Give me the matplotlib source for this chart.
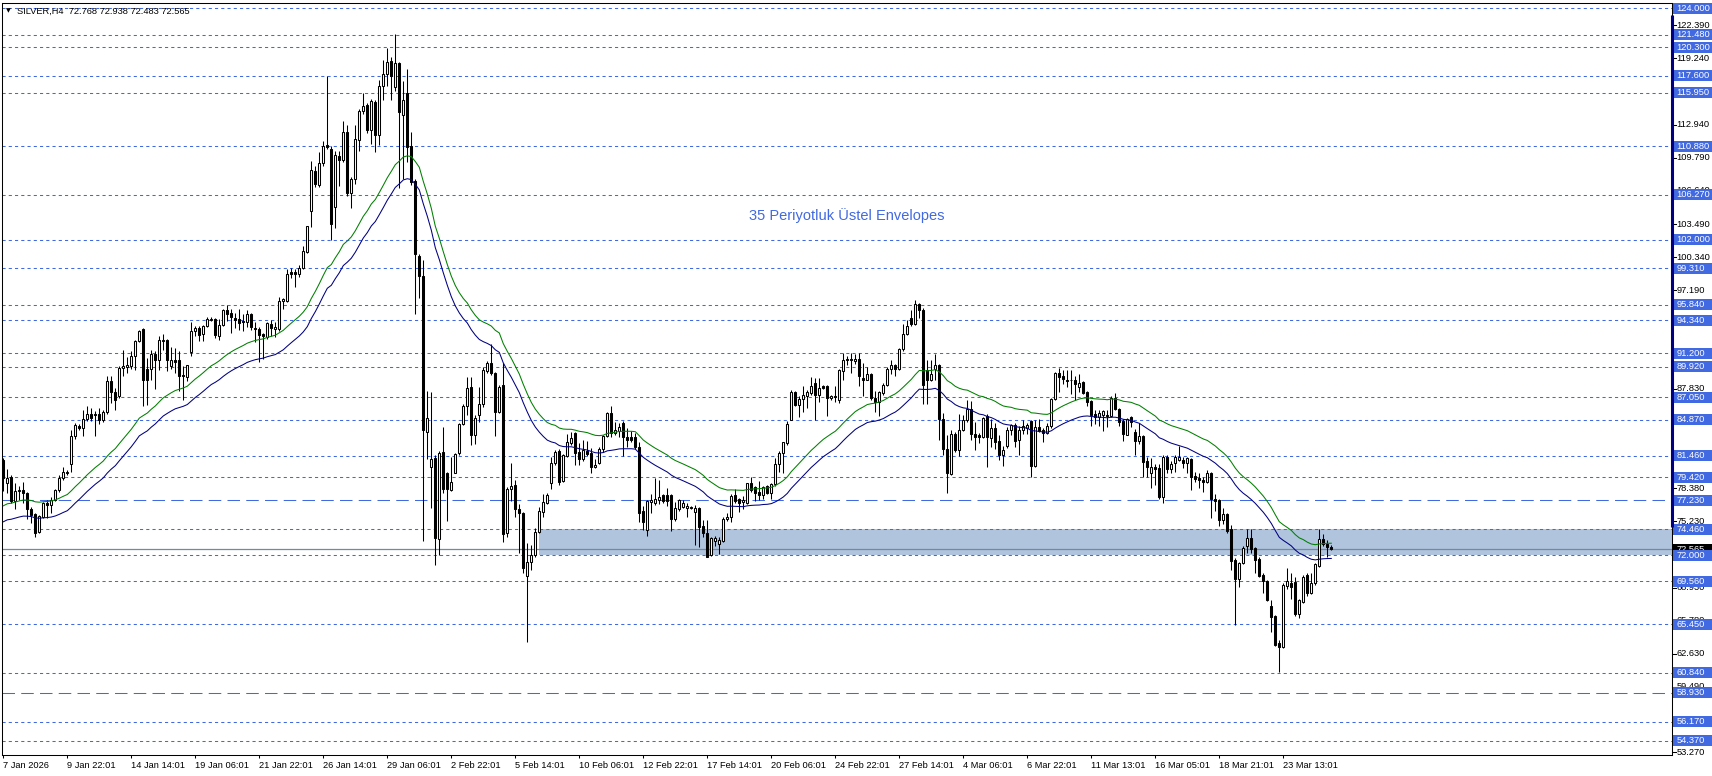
import numpy as np
import matplotlib
matplotlib.use("Agg")
import matplotlib.pyplot as plt
from matplotlib.patches import Rectangle
import matplotlib.transforms as mtransforms

# ---------------- data (H4 candles) ----------------
opens = [
81.08, 78.92, 79.42, 77.20, 78.10, 78.22, 77.96, 76.38, 75.90, 74.25,
75.68, 77.01, 76.79, 77.27, 78.22, 79.33, 79.96, 80.69, 83.30, 84.31,
84.09, 84.95, 85.46, 85.46, 85.46, 84.82, 85.58, 88.54, 87.49, 87.11,
89.81, 89.90, 90.03, 90.98, 92.35, 93.52, 89.71, 89.71, 91.17, 90.54,
92.38, 92.50, 89.96, 90.54, 90.54, 89.17, 88.95, 91.30, 93.30, 93.61,
93.07, 93.84, 94.35, 94.47, 92.88, 93.93, 95.30, 95.06, 94.59, 94.51,
94.28, 94.20, 94.90, 93.62, 93.54, 93.04, 92.73, 94.01, 93.50, 93.50,
96.15, 96.15, 98.94, 98.94, 98.79, 99.33, 100.81, 104.77, 108.58, 107.22,
109.28, 110.99, 110.60, 105.08, 109.94, 109.55, 112.27, 106.44, 107.73, 111.50,
114.22, 114.80, 112.47, 115.11, 112.00, 116.66, 117.71, 119.00, 116.55, 118.76,
113.83, 115.97, 110.91, 107.61, 100.50, 98.56, 83.71, 80.41, 81.30, 73.53,
81.85, 79.83, 78.21, 79.86, 81.69, 84.48, 86.19, 87.97, 83.44, 85.34,
86.38, 89.55, 90.31, 89.36, 85.65, 88.19, 74.09, 78.27, 78.68, 76.37,
75.99, 70.03, 71.39, 72.03, 74.25, 76.15, 77.00, 78.84, 80.74, 81.95,
79.09, 81.44, 82.71, 83.59, 81.85, 81.12, 81.95, 81.69, 80.36, 80.74,
82.07, 83.34, 85.56, 83.59, 83.85, 84.61, 83.28, 83.28, 83.21, 82.33,
76.24, 74.40, 77.10, 77.00, 77.26, 77.73, 77.73, 77.73, 75.42, 76.38,
76.57, 76.47, 76.63, 76.16, 76.47, 74.79, 74.09, 72.03, 73.39, 73.08,
73.39, 75.42, 75.68, 77.74, 77.33, 77.11, 77.01, 78.85, 78.54, 78.06,
77.74, 78.60, 77.96, 78.79, 80.69, 81.71, 82.66, 84.88, 87.49, 86.31,
86.85, 87.17, 87.42, 88.38, 87.26, 88.06, 88.06, 86.95, 87.17, 86.73,
89.49, 90.66, 90.66, 90.44, 90.66, 88.85, 88.69, 89.27, 86.95, 86.54,
87.42, 88.22, 89.71, 90.12, 89.71, 91.61, 93.07, 94.60, 94.02, 95.90,
95.30, 89.59, 88.70, 89.75, 90.07, 85.00, 82.15, 79.71, 83.51, 82.06,
83.96, 84.84, 85.95, 83.51, 83.42, 83.26, 85.22, 83.20, 84.15, 82.88,
81.52, 82.37, 83.96, 84.37, 82.94, 83.96, 84.15, 84.78, 80.47, 84.21,
83.89, 83.64, 84.27, 86.90, 89.34, 89.02, 88.70, 88.70, 88.70, 88.01,
88.48, 87.53, 86.68, 85.41, 85.16, 85.32, 85.32, 85.22, 87.00, 85.95,
84.78, 83.47, 85.12, 83.76, 82.91, 83.35, 81.01, 79.87, 80.37, 80.28,
77.52, 81.32, 80.18, 80.75, 81.07, 81.07, 80.82, 81.13, 79.55, 79.33,
79.17, 79.01, 79.80, 77.33, 77.27, 75.37, 75.94, 74.48, 71.57, 69.73,
71.25, 72.90, 73.63, 72.68, 71.63, 70.14, 69.60, 67.20, 66.25, 63.65,
63.27, 69.10, 69.41, 69.51, 66.44, 67.61, 70.14, 68.46, 69.35, 71.00,
73.53, 73.09, 72.768]

highs = [
81.24, 80.19, 79.65, 78.85, 78.60, 79.01, 78.06, 76.57, 76.06, 75.84,
77.11, 77.27, 77.58, 78.28, 79.65, 80.44, 80.12, 83.93, 84.57, 84.50,
85.77, 86.22, 85.99, 85.68, 85.99, 85.84, 89.08, 89.08, 87.90, 89.96,
91.55, 90.85, 91.39, 92.50, 93.39, 93.61, 90.76, 91.49, 91.39, 92.82,
93.07, 92.57, 91.81, 91.71, 91.39, 89.96, 90.12, 94.15, 93.84, 93.77,
93.93, 94.66, 94.66, 94.57, 94.47, 95.42, 95.84, 95.45, 95.06, 95.37,
94.90, 95.29, 95.06, 94.20, 93.74, 93.12, 94.20, 94.40, 94.20, 96.54,
96.46, 99.26, 99.33, 99.18, 99.64, 101.39, 103.34, 109.44, 108.97, 110.33,
111.38, 117.60, 110.91, 110.45, 110.45, 113.32, 112.93, 108.00, 112.86, 114.41,
115.97, 114.99, 115.38, 115.27, 117.21, 119.07, 120.24, 119.38, 121.60, 118.88,
117.05, 118.22, 112.27, 107.73, 100.62, 100.03, 87.60, 87.52, 81.58, 81.96,
84.18, 79.90, 81.31, 81.69, 84.61, 86.38, 88.92, 88.92, 85.34, 87.97,
89.93, 90.50, 92.09, 89.46, 88.19, 90.25, 78.52, 80.80, 79.16, 76.88,
76.15, 73.14, 72.98, 74.56, 76.56, 77.83, 77.95, 81.38, 82.01, 82.07,
81.63, 83.53, 83.75, 83.75, 82.64, 82.96, 82.90, 82.17, 81.12, 82.33,
83.44, 85.65, 86.19, 84.70, 84.61, 84.80, 84.07, 83.85, 83.59, 82.80,
76.69, 77.26, 77.83, 79.32, 79.16, 77.83, 78.37, 77.83, 77.10, 77.33,
77.27, 76.95, 76.69, 76.79, 76.57, 75.36, 75.36, 73.77, 73.84, 73.77,
75.68, 76.06, 77.84, 78.28, 77.43, 77.65, 78.92, 79.49, 78.60, 79.11,
78.60, 78.70, 78.85, 81.23, 81.96, 82.82, 84.73, 87.74, 87.58, 87.11,
88.06, 87.68, 88.95, 88.85, 88.85, 88.22, 88.22, 87.26, 88.06, 89.71,
91.23, 90.92, 91.23, 91.17, 91.23, 90.28, 89.90, 89.33, 87.58, 87.58,
88.38, 89.90, 90.60, 90.22, 91.71, 94.00, 94.34, 95.30, 96.30, 96.00,
95.50, 90.54, 90.60, 91.17, 90.22, 85.54, 83.42, 83.96, 83.73, 85.41,
85.32, 86.74, 86.68, 84.68, 83.64, 85.16, 85.41, 85.00, 84.59, 83.42,
82.37, 84.21, 84.53, 84.59, 84.27, 84.91, 84.59, 84.91, 84.84, 85.00,
84.15, 84.59, 87.00, 89.43, 89.84, 89.65, 89.59, 89.65, 89.02, 89.21,
88.58, 87.63, 86.80, 85.79, 85.86, 85.86, 85.79, 87.12, 87.44, 86.05,
85.00, 85.10, 85.25, 83.98, 84.55, 83.44, 81.39, 81.23, 80.69, 80.69,
81.54, 81.54, 81.01, 81.54, 82.40, 81.32, 81.39, 81.23, 79.96, 79.87,
79.48, 80.12, 79.96, 77.84, 77.33, 76.48, 76.00, 74.89, 71.73, 71.41,
72.90, 74.48, 74.48, 72.77, 71.88, 70.30, 69.67, 67.77, 66.34, 63.97,
69.35, 70.78, 70.36, 69.92, 67.83, 70.14, 70.30, 70.36, 71.25, 74.48,
74.04, 73.47, 72.938]

lows = [
78.16, 77.96, 76.95, 76.38, 77.27, 76.95, 75.42, 75.04, 73.77, 74.15,
75.52, 75.52, 76.00, 77.20, 78.06, 79.17, 79.65, 79.96, 83.04, 83.93,
83.30, 84.73, 84.73, 83.30, 84.50, 84.63, 85.46, 86.47, 85.84, 86.95,
89.08, 89.33, 89.71, 89.65, 92.25, 86.22, 86.31, 88.69, 87.81, 89.65,
91.55, 89.49, 89.71, 89.33, 87.58, 86.79, 88.54, 90.92, 92.82, 92.35,
92.35, 93.71, 94.25, 92.66, 92.50, 93.77, 94.25, 93.12, 93.62, 93.43,
93.35, 93.74, 93.43, 92.26, 90.40, 90.71, 92.57, 92.84, 92.73, 93.35,
95.45, 96.07, 98.40, 97.51, 98.48, 99.18, 100.73, 103.22, 107.03, 107.03,
109.05, 110.60, 101.97, 103.14, 107.11, 109.36, 106.17, 105.01, 107.34, 110.45,
113.94, 112.16, 111.11, 110.33, 110.99, 115.27, 116.66, 115.27, 116.16, 106.95,
107.73, 109.36, 107.22, 94.90, 96.46, 73.41, 81.19, 76.52, 71.08, 72.05,
77.89, 75.24, 78.14, 79.79, 81.53, 84.40, 85.34, 82.49, 82.58, 84.70,
86.13, 89.36, 89.14, 83.34, 85.56, 73.29, 73.77, 77.19, 75.67, 72.19,
70.35, 63.80, 70.60, 71.87, 74.15, 75.61, 76.88, 78.27, 80.58, 78.68,
79.00, 81.31, 82.49, 80.58, 80.58, 80.99, 81.44, 79.86, 80.27, 80.68,
81.85, 83.21, 83.28, 83.44, 83.28, 81.44, 82.33, 82.80, 82.07, 75.20,
74.40, 73.83, 75.99, 76.78, 76.88, 76.94, 76.69, 74.34, 75.29, 76.25,
76.47, 75.68, 76.38, 72.98, 72.76, 73.77, 71.81, 71.93, 72.89, 72.12,
73.30, 75.30, 75.20, 77.01, 76.16, 76.38, 76.88, 78.06, 77.20, 77.27,
77.33, 77.84, 77.33, 78.60, 79.96, 79.81, 82.50, 84.82, 86.22, 85.14,
85.58, 86.00, 87.26, 84.82, 86.54, 87.81, 85.27, 86.79, 86.54, 86.47,
88.63, 90.12, 89.33, 90.22, 88.06, 87.17, 88.63, 86.79, 85.58, 85.20,
87.26, 88.12, 89.27, 89.01, 89.65, 91.45, 92.92, 93.80, 93.90, 94.60,
86.43, 86.43, 88.58, 88.64, 82.94, 81.52, 77.88, 79.62, 81.83, 81.42,
83.83, 84.68, 83.01, 81.99, 82.69, 83.20, 80.41, 82.31, 82.15, 81.04,
80.47, 82.25, 83.42, 82.31, 81.52, 83.58, 83.51, 79.46, 80.41, 83.73,
82.78, 83.58, 84.15, 86.74, 87.53, 88.32, 88.01, 87.31, 86.74, 87.53,
87.31, 86.17, 84.27, 84.53, 84.27, 83.83, 84.21, 85.16, 85.79, 84.27,
82.88, 83.40, 84.17, 81.54, 82.59, 79.42, 79.42, 78.38, 78.69, 77.33,
77.02, 79.80, 79.80, 79.96, 81.01, 80.28, 79.80, 78.22, 79.01, 78.38,
78.06, 78.92, 75.53, 76.26, 74.80, 74.99, 74.17, 70.62, 65.39, 69.03,
71.19, 72.20, 72.20, 70.30, 69.92, 68.40, 67.70, 64.76, 63.40, 60.90,
63.18, 68.78, 67.83, 66.25, 66.03, 67.45, 68.15, 68.34, 69.19, 70.87,
72.90, 71.82, 72.483]

closes = [
79.33, 79.33, 77.20, 78.16, 78.20, 77.90, 76.38, 75.84, 74.15, 75.74,
77.01, 76.79, 77.27, 78.22, 79.33, 79.96, 79.81, 83.30, 84.41, 84.09,
84.95, 85.46, 85.04, 85.33, 84.82, 85.58, 88.54, 87.49, 86.79, 89.81,
89.96, 90.12, 90.98, 92.35, 93.30, 88.63, 88.63, 91.17, 90.54, 92.44,
92.46, 90.54, 90.54, 90.35, 89.01, 89.01, 90.06, 93.36, 93.61, 92.98,
93.84, 94.47, 94.47, 92.98, 93.93, 95.30, 94.98, 94.67, 94.40, 94.12,
94.20, 94.90, 93.74, 93.54, 92.96, 92.84, 94.12, 93.62, 93.74, 96.22,
96.34, 98.79, 98.79, 98.79, 99.33, 100.89, 103.26, 108.66, 107.34, 109.28,
110.91, 110.84, 103.53, 110.06, 109.55, 112.27, 106.44, 107.73, 111.61, 114.22,
114.72, 112.47, 115.19, 112.00, 116.66, 117.71, 118.88, 117.60, 118.76, 114.10,
115.27, 110.84, 107.49, 100.62, 98.56, 83.91, 85.07, 81.19, 73.61, 81.77,
78.27, 78.27, 79.00, 81.63, 84.48, 86.19, 87.87, 83.44, 85.02, 86.38,
89.62, 90.25, 89.30, 85.65, 87.97, 74.02, 78.27, 78.59, 76.37, 75.99,
70.76, 71.39, 72.03, 74.25, 76.24, 77.10, 77.73, 80.74, 81.85, 79.00,
81.53, 82.80, 83.12, 81.69, 81.12, 82.01, 81.63, 80.36, 80.58, 82.07,
83.34, 85.56, 83.66, 83.91, 84.23, 83.21, 82.96, 82.96, 82.33, 76.05,
75.20, 77.19, 77.26, 77.32, 77.51, 77.19, 77.19, 75.42, 76.47, 77.27,
77.01, 76.69, 76.47, 76.47, 74.66, 74.09, 71.87, 73.62, 73.62, 73.46,
75.42, 75.68, 77.65, 77.20, 77.01, 77.27, 78.85, 78.22, 77.96, 77.74,
78.47, 77.96, 78.79, 80.69, 81.71, 82.73, 84.50, 87.49, 86.31, 86.85,
87.26, 87.49, 88.12, 87.26, 87.90, 87.90, 86.95, 87.17, 87.04, 89.58,
90.60, 90.54, 90.54, 90.66, 89.08, 88.69, 89.27, 86.95, 86.54, 87.49,
88.22, 89.71, 90.12, 89.71, 91.61, 93.07, 93.77, 93.96, 95.90, 95.30,
88.17, 88.64, 89.21, 90.07, 85.00, 82.15, 79.78, 83.51, 81.99, 83.89,
84.84, 85.95, 83.58, 83.26, 83.26, 85.10, 83.26, 84.15, 82.78, 81.52,
82.06, 83.96, 84.37, 82.88, 83.96, 84.27, 84.37, 80.47, 84.21, 83.83,
83.64, 84.27, 86.90, 89.34, 88.96, 88.80, 88.58, 88.64, 88.26, 88.39,
87.44, 86.58, 85.32, 85.16, 85.54, 85.73, 85.22, 87.00, 85.95, 84.68,
83.58, 84.97, 84.71, 82.91, 83.35, 80.91, 80.44, 80.37, 80.18, 77.52,
81.32, 80.18, 80.69, 81.32, 81.32, 80.82, 81.23, 79.42, 79.23, 79.17,
79.01, 79.80, 77.33, 77.20, 75.37, 75.94, 74.36, 71.50, 69.73, 71.25,
72.68, 73.63, 72.58, 71.57, 70.05, 69.60, 67.77, 66.18, 63.49, 63.27,
69.19, 69.60, 69.03, 66.44, 67.71, 69.98, 68.46, 69.41, 71.19, 73.53,
73.09, 72.77, 72.565]

# time-axis labels (every 16 bars)
xtick_bars = [0, 16, 32, 48, 64, 80, 96, 112, 128, 144, 160, 176, 192, 208,
              224, 240, 256, 272, 288, 304, 320]
xtick_labels = ["7 Jan 2026", "9 Jan 22:01", "14 Jan 14:01", "19 Jan 06:01",
                "21 Jan 22:01", "26 Jan 14:01", "29 Jan 06:01", "2 Feb 22:01",
                "5 Feb 14:01", "10 Feb 06:01", "12 Feb 22:01", "17 Feb 14:01",
                "20 Feb 06:01", "24 Feb 22:01", "27 Feb 14:01", "4 Mar 06:01",
                "6 Mar 22:01", "11 Mar 13:01", "16 Mar 05:01", "18 Mar 21:01",
                "23 Mar 13:01"]

# horizontal level lines (dotted) and long-dashed ones
dotted_levels = [124.000, 121.480, 120.300, 117.600, 115.950, 110.880, 106.270,
                 102.000, 99.310, 95.840, 94.340, 91.200, 89.920, 87.050, 84.870,
                 81.460, 79.420, 74.460, 72.000, 69.560, 65.450, 60.840, 56.170,
                 54.370]
dashed_levels = [77.230, 58.930]

# regular price-scale ticks
scale_ticks = [53.270, 56.420, 59.490, 62.630, 65.780, 68.930, 72.080, 75.230,
               78.380, 81.530, 84.680, 87.830, 90.980, 94.040, 97.190, 100.340,
               103.490, 106.640, 109.790, 112.940, 116.090, 119.240, 122.390]

current_price = 72.565
zone_low, zone_high = 72.000, 74.460
zone_start_bar = 134
ema_period = 35
env_dev = 0.01
ema_seed = 75.75

# ---------------- figure geometry ----------------
W, H = 1712, 776
fig = plt.figure(figsize=(W / 100, H / 100), dpi=100)
fig.patch.set_facecolor("white")
L_PX, R_PX, T_PX, B_PX = 2.0, 1672.0, 2.7, 755.0
ax = fig.add_axes([L_PX / W, 1 - B_PX / H, (R_PX - L_PX) / W, (B_PX - T_PX) / H])

BAR0, STEP = 3.3, 4.0
PX_PER_UNIT, Y124 = 10.52, 8.3


def price_at(ypx):
    return 124.0 - (ypx - Y124) / PX_PER_UNIT


ax.set_xlim((L_PX - BAR0) / STEP, (R_PX - BAR0) / STEP)
ax.set_ylim(price_at(B_PX), price_at(T_PX))

FONT = "Liberation Sans"
FS = 6.7
BLUE = "#4169E1"
LW1 = 0.75

# zone rectangle
xr = ax.get_xlim()[1]
ax.add_patch(Rectangle((zone_start_bar, zone_low), xr - zone_start_bar + 5,
                       zone_high - zone_low, fc="#B0C4DE", ec="none", zorder=1))

# level lines
for lv in dotted_levels:
    ax.axhline(lv, color=BLUE, lw=LW1, ls=(0, (3, 3)), zorder=2)
for lv in dashed_levels:
    ax.axhline(lv, color=BLUE, lw=LW1, ls=(0, (12, 6)), zorder=2)
ax.axhline(current_price, color="#778899", lw=0.9, zorder=2.5)

# candles
O = np.array(opens); Hh = np.array(highs); Ll = np.array(lows); C = np.array(closes)
n = len(C)
x = np.arange(n)
up = C >= O
ax.vlines(x, Ll, Hh, color="black", lw=LW1, zorder=3)
body_lo = np.minimum(O, C)
body_h = np.maximum(np.abs(C - O), 0.03)
ax.bar(x, body_h, bottom=body_lo, width=0.5,
       color=np.where(up, "white", "black"), edgecolor="black",
       linewidth=LW1, zorder=4)

# envelopes of EMA(35)
alpha = 2.0 / (ema_period + 1)
ema = np.empty(n)
prev = ema_seed
for i in range(n):
    prev = prev + alpha * (C[i] - prev)
    ema[i] = prev
ax.plot(x, ema * (1 + env_dev), color="#008000", lw=LW1, zorder=5)
ax.plot(x, ema * (1 - env_dev), color="#000080", lw=LW1, zorder=5)

# axes styling
for s in ax.spines.values():
    s.set_linewidth(LW1)
    s.set_color("black")
ax.set_yticks([])
ax.set_xticks(xtick_bars)
ax.set_xticklabels(xtick_labels, ha="left", fontsize=FS, family=FONT)
ax.tick_params(axis="x", length=2.5, width=LW1, pad=1.5, direction="out")

# right price scale
trans = mtransforms.blended_transform_factory(fig.transFigure, ax.transData)
box_h = 11.0 / PX_PER_UNIT
bx0 = 1673.0 / W
bw = (W - 1673.0) / W
tx = 1676.5 / W
for tv in scale_ticks:
    ax.plot([R_PX / W, 1675.5 / W], [tv, tv], color="black", lw=LW1,
            transform=trans, clip_on=False, zorder=6)
    ax.text(tx, tv, f"{tv:.3f}", transform=trans, fontsize=FS, family=FONT,
            color="black", va="center", ha="left", clip_on=False, zorder=6)

ax.add_patch(Rectangle((bx0, current_price - box_h / 2), bw, box_h,
                       transform=trans, fc="black", ec="none",
                       clip_on=False, zorder=7))
ax.text(tx, current_price, f"{current_price:.3f}", transform=trans, fontsize=FS,
        family=FONT, color="white", va="center", ha="left", clip_on=False,
        zorder=7.1)

for lv in dotted_levels + dashed_levels:
    ax.add_patch(Rectangle((bx0, lv - box_h / 2), bw, box_h, transform=trans,
                           fc=BLUE, ec="none", clip_on=False, zorder=8))
    ax.text(tx, lv, f"{lv:.3f}", transform=trans, fontsize=FS, family=FONT,
            color="white", va="center", ha="left", clip_on=False, zorder=8.1)

# navy bar at the right edge
ax.plot([1671.7 / W, 1671.7 / W], [price_at(15), price_at(527)], color="#000080",
        lw=2.2, transform=trans, clip_on=False, zorder=9, solid_capstyle="butt")

# title and annotation
fig.text(6.0 / W, 1 - 11.0 / H, "\u25BC", fontsize=4.5, family="DejaVu Sans",
         va="center", ha="left", color="black")
fig.text(17.0 / W, 1 - 11.0 / H, "SILVER,H4  72.768 72.938 72.483 72.565",
         fontsize=FS, family=FONT, va="center", ha="left", color="black")
fig.text(847.0 / W, 1 - 216.0 / H, "35 Periyotluk \u00dcstel Envelopes",
         fontsize=10.5, family=FONT, va="center", ha="center", color=BLUE)

fig.savefig("out.png", dpi=100, facecolor="white")
